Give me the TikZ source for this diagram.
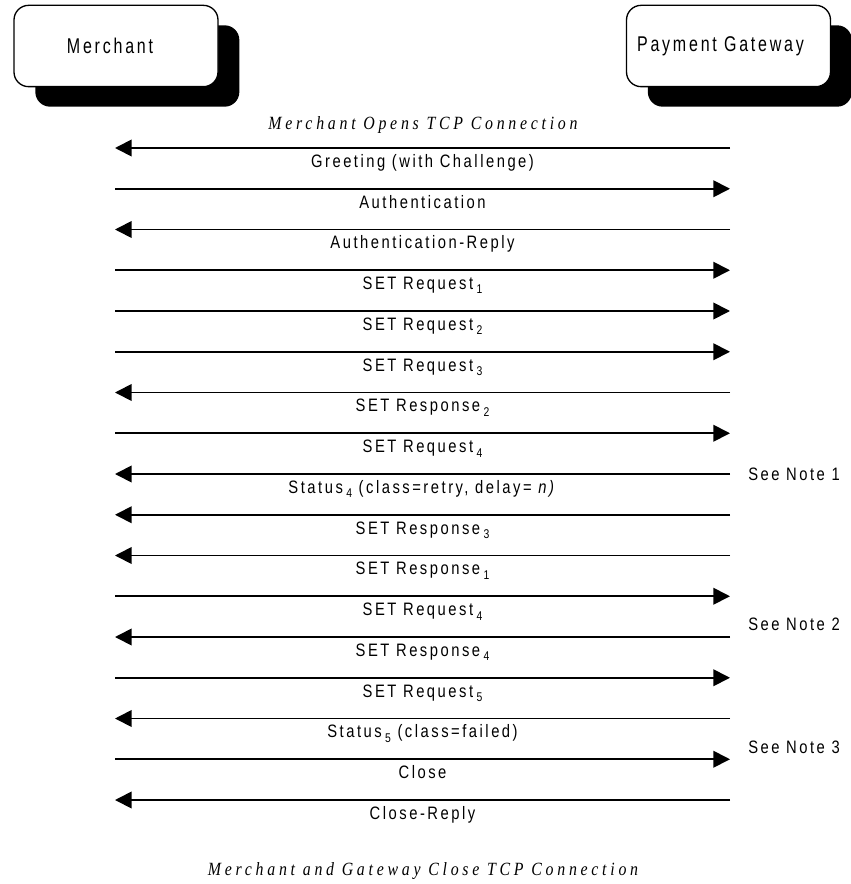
\documentclass[tikz,border=0pt]{standalone}
\usepackage{fontspec}
\setmainfont{Liberation Sans}[FakeStretch=0.82,LetterSpace=14]
\newfontfamily\partyfont{Liberation Sans}[FakeStretch=0.75,LetterSpace=13]
\newfontfamily\titlefont{Liberation Serif}[FakeStretch=0.85,LetterSpace=20]
\usetikzlibrary{arrows.meta,shadows}

\newcommand{\msub}[1]{\hspace{2.5pt}\raisebox{-0.45ex}{\fontsize{9.5}{10}\selectfont #1}}

\begin{document}
\begin{tikzpicture}[x=0.75pt,y=-0.75pt]
  \tikzstyle{every node}=[font=\fontsize{13.5}{16}\selectfont]
  \tikzstyle{party}=[draw=black,line width=1pt,fill=white,rounded corners=11pt,
    minimum width=153pt,minimum height=61pt,
    drop shadow={shadow xshift=16pt,shadow yshift=-15pt,fill=black,opacity=1}]
  \tikzstyle{partyname}=[font=\partyfont\fontsize{16}{18}\selectfont]
  \tikzstyle{msg}=[line width=1.3pt,-{Triangle[length=12.5pt,width=12.5pt]}]
  \tikzstyle{lbl}=[midway,anchor=base,yshift=-14.6pt]
  \tikzstyle{note}=[anchor=base west,inner sep=0pt]
  \tikzstyle{caption}=[anchor=base,font=\titlefont\itshape\fontsize{14}{16}\selectfont]

  \useasboundingbox (0,0) rectangle (850,884);

  % the two parties
  \node[party] (merchant) at (116,46) {};
  \node[party] (gateway)  at (728.5,46) {};
  \node[partyname] (merchantname) at ([xshift=-4.5pt]merchant.center) {Merchant};
  \node[partyname] (gatewayname)  at ([xshift=-6pt]gateway.center) {Payment Gateway};

  \node[caption] (open) at (423,130) {Merchant Opens TCP Connection};

  % ends of the message lines
  \foreach \i in {1,...,17}
  {
    \coordinate (m\i) at (115,148+40.75*\i-40.75);
    \coordinate (g\i) at (730,148+40.75*\i-40.75);
  }

  \draw[msg] (g1)  -- (m1)  node[lbl] {Greeting (with Challenge)};
  \draw[msg] (m2)  -- (g2)  node[lbl] {Authentication};
  \draw[msg] (g3)  -- (m3)  node[lbl] {Authentication-Reply};
  \draw[msg] (m4)  -- (g4)  node[lbl] {SET Request\msub{1}};
  \draw[msg] (m5)  -- (g5)  node[lbl] {SET Request\msub{2}};
  \draw[msg] (m6)  -- (g6)  node[lbl] {SET Request\msub{3}};
  \draw[msg] (g7)  -- (m7)  node[lbl] {SET Response\msub{2}};
  \draw[msg] (m8)  -- (g8)  node[lbl] {SET Request\msub{4}};
  \draw[msg] (g9)  -- (m9)  node[lbl] {Status\msub{4} (class=retry, delay= \textit{n)}};
  \draw[msg] (g10) -- (m10) node[lbl] {SET Response\msub{3}};
  \draw[msg] (g11) -- (m11) node[lbl] {SET Response\msub{1}};
  \draw[msg] (m12) -- (g12) node[lbl] {SET Request\msub{4}};
  \draw[msg] (g13) -- (m13) node[lbl] {SET Response\msub{4}};
  \draw[msg] (m14) -- (g14) node[lbl] {SET Request\msub{5}};
  \draw[msg] (g15) -- (m15) node[lbl] {Status\msub{5} (class=failed)};
  \draw[msg] (m16) -- (g16) node[lbl] {Close};
  \draw[msg] (g17) -- (m17) node[lbl] {Close-Reply};

  % notes on the right
  \node[note] (note1) at (748,480) {See Note 1};
  \node[note] (note2) at (748,630) {See Note 2};
  \node[note] (note3) at (748,753) {See Note 3};

  \node[caption] (close) at (423,875) {Merchant and Gateway Close TCP Connection};
\end{tikzpicture}
\end{document}
